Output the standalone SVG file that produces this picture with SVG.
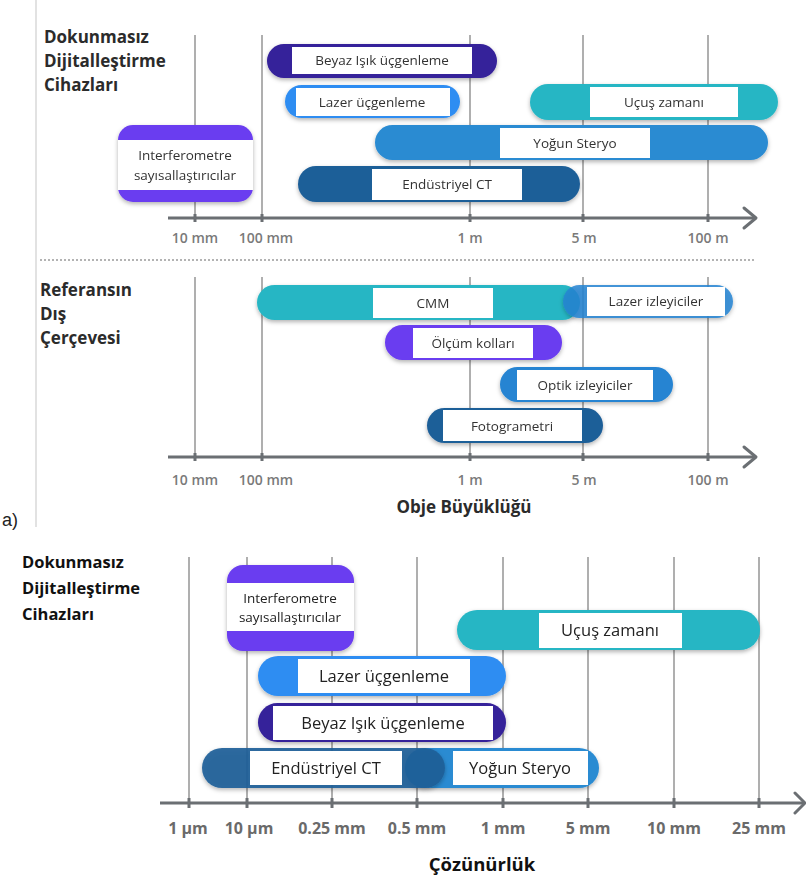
<svg xmlns="http://www.w3.org/2000/svg" width="806" height="881" viewBox="0 0 806 881">
<defs>
<filter id="sh" x="-10%" y="-30%" width="120%" height="170%">
<feDropShadow dx="0" dy="2" stdDeviation="2" flood-color="#000" flood-opacity="0.3"/>
</filter>
<style>
.grid{stroke:#7a7a7a;stroke-width:1.2;fill:none}
.axis{stroke:#6b6f73;stroke-width:3;fill:none}
.arrow{stroke:#6b6f73;stroke-width:3;fill:none;stroke-linecap:round;stroke-linejoin:round}
.tick{stroke:#6b6f73;stroke-width:3}
.box{fill:#fff}
.t1{font-family:"Open Sans","Liberation Sans",sans-serif;font-size:13.5px;fill:#333;text-anchor:middle}
.t2{font-family:"Open Sans","Liberation Sans",sans-serif;font-size:16.5px;fill:#222;text-anchor:middle}
.ax1{font-family:"Open Sans","Liberation Sans",sans-serif;font-size:14px;font-weight:600;fill:#7a7a7a;text-anchor:middle}
.ax2{font-family:"Open Sans","Liberation Sans",sans-serif;font-size:16px;font-weight:700;fill:#6a6a6a;text-anchor:middle}
.ttl1{font-family:"Open Sans","Liberation Sans",sans-serif;font-size:17px;font-weight:700;fill:#2b2b2b}
.ttl2{font-family:"Open Sans","Liberation Sans",sans-serif;font-size:16.5px;font-weight:700;fill:#111}
.indigo{fill:#35209a}
.lblue{fill:#2f8df2}
.mblue{fill:#2a8bd2}
.dblue{fill:#1f5f98}
.teal{fill:#27b6c4}
.purple{fill:#6a3cf0}
.tblue{fill:#2584d2}
</style>
</defs>
<rect width="806" height="881" fill="#fff"/>
<line x1="36" y1="0" x2="36" y2="527" stroke="#e2e2e2" stroke-width="2"/>

<g id="title-top">
<text class="ttl1" x="44" y="43">Dokunmasız</text>
<text class="ttl1" x="44" y="67">Dijitalleştirme</text>
<text class="ttl1" x="44" y="91">Cihazları</text>
</g>
<g id="title-mid">
<text class="ttl1" x="40" y="296">Referansın</text>
<text class="ttl1" x="40" y="320">Dış</text>
<text class="ttl1" x="40" y="344">Çerçevesi</text>
</g>

<g id="connectors">
<line class="grid" x1="195" y1="35" x2="195" y2="218"/>
<line class="grid" x1="262" y1="35" x2="262" y2="218"/>
<line class="grid" x1="470" y1="35" x2="470" y2="218"/>
<line class="grid" x1="583" y1="35" x2="583" y2="218"/>
<line class="grid" x1="708" y1="35" x2="708" y2="218"/>
<line class="axis" x1="168" y1="218" x2="755" y2="218"/>
<polyline class="arrow" points="744,208 756,218 744,228"/>
<g class="tick">
<line x1="195" y1="214" x2="195" y2="222"/><line x1="262" y1="214" x2="262" y2="222"/><line x1="470" y1="214" x2="470" y2="222"/><line x1="583" y1="214" x2="583" y2="222"/><line x1="708" y1="214" x2="708" y2="222"/>
</g>
<line x1="40" y1="260" x2="754" y2="260" stroke="#9a9a9a" stroke-width="1.5" stroke-dasharray="2,2"/>
<line class="grid" x1="195" y1="277" x2="195" y2="457"/>
<line class="grid" x1="262" y1="277" x2="262" y2="457"/>
<line class="grid" x1="470" y1="277" x2="470" y2="457"/>
<line class="grid" x1="583" y1="277" x2="583" y2="457"/>
<line class="grid" x1="708" y1="277" x2="708" y2="457"/>
<line class="axis" x1="168" y1="457" x2="755" y2="457"/>
<polyline class="arrow" points="744,447 756,457 744,467"/>
<g class="tick">
<line x1="195" y1="453" x2="195" y2="461"/><line x1="262" y1="453" x2="262" y2="461"/><line x1="470" y1="453" x2="470" y2="461"/><line x1="583" y1="453" x2="583" y2="461"/><line x1="708" y1="453" x2="708" y2="461"/>
</g>
<line class="grid" x1="189" y1="557" x2="189" y2="803"/>
<line class="grid" x1="247" y1="557" x2="247" y2="803"/>
<line class="grid" x1="332" y1="557" x2="332" y2="803"/>
<line class="grid" x1="417" y1="557" x2="417" y2="803"/>
<line class="grid" x1="503" y1="557" x2="503" y2="803"/>
<line class="grid" x1="588" y1="557" x2="588" y2="803"/>
<line class="grid" x1="674" y1="557" x2="674" y2="803"/>
<line class="grid" x1="759" y1="557" x2="759" y2="803"/>
<line class="axis" x1="160" y1="803" x2="803" y2="803"/>
<polyline class="arrow" points="795,793 805,803 795,813"/>
<g class="tick">
<line x1="189" y1="798" x2="189" y2="808"/><line x1="247" y1="798" x2="247" y2="808"/><line x1="332" y1="798" x2="332" y2="808"/><line x1="417" y1="798" x2="417" y2="808"/><line x1="503" y1="798" x2="503" y2="808"/><line x1="588" y1="798" x2="588" y2="808"/><line x1="674" y1="798" x2="674" y2="808"/><line x1="759" y1="798" x2="759" y2="808"/>
</g>
</g>

<g id="axis-labels-top">
<text class="ax1" x="195" y="243">10 mm</text>
<text class="ax1" x="266" y="243">100 mm</text>
<text class="ax1" x="470" y="243">1 m</text>
<text class="ax1" x="584" y="243">5 m</text>
<text class="ax1" x="708" y="243">100 m</text>
</g>
<g id="axis-labels-mid">
<text class="ax1" x="195" y="485">10 mm</text>
<text class="ax1" x="266" y="485">100 mm</text>
<text class="ax1" x="470" y="485">1 m</text>
<text class="ax1" x="584" y="485">5 m</text>
<text class="ax1" x="708" y="485">100 m</text>
<text class="ttl1" x="464" y="513" text-anchor="middle">Obje Büyüklüğü</text>
</g>
<text x="2" y="526" font-family="Liberation Sans,Arial,sans-serif" font-size="18" fill="#222">a)</text>

<g id="beyaz-top" filter="url(#sh)">
<rect class="indigo" x="267" y="44" width="230" height="34" rx="17"/>
<rect class="box" x="292" y="47" width="180" height="27"/>
<text class="t1" x="382" y="65">Beyaz Işık üçgenleme</text>
</g>
<g id="lazer-top" filter="url(#sh)">
<rect class="lblue" x="285" y="85" width="175" height="33" rx="16.5"/>
<rect class="box" x="296" y="88" width="154" height="28"/>
<text class="t1" x="372" y="107">Lazer üçgenleme</text>
</g>
<g id="ucus-top" filter="url(#sh)">
<rect class="teal" x="530" y="84" width="248" height="36" rx="18"/>
<rect class="box" x="590" y="87" width="148" height="30"/>
<text class="t1" x="664" y="107">Uçuş zamanı</text>
</g>
<g id="yogun-top" filter="url(#sh)">
<rect class="mblue" x="375" y="125" width="393" height="35" rx="17.5"/>
<rect class="box" x="500" y="128" width="150" height="30"/>
<text class="t1" x="575" y="148">Yoğun Steryo</text>
</g>
<g id="ct-top" filter="url(#sh)">
<rect class="dblue" x="298" y="166" width="282" height="36" rx="18"/>
<rect class="box" x="372" y="169" width="150" height="31"/>
<text class="t1" x="447" y="189">Endüstriyel CT</text>
</g>
<g id="interf-top" filter="url(#sh)">
<rect class="purple" x="118" y="125" width="135" height="77" rx="15"/>
<rect class="box" x="118" y="140" width="135" height="50"/>
<text class="t1" x="185" y="160">Interferometre</text>
<text class="t1" x="185" y="180">sayısallaştırıcılar</text>
</g>

<g id="cmm" filter="url(#sh)">
<rect class="teal" x="257" y="285" width="323" height="35" rx="17.5"/>
<rect class="box" x="373" y="288" width="120" height="30"/>
<text class="t1" x="433" y="308">CMM</text>
</g>
<g id="lazer-izleyiciler" filter="url(#sh)">
<rect class="tblue" x="563" y="285" width="170" height="33" rx="16.5" opacity="0.85"/>
<rect class="box" x="587" y="287" width="138" height="29"/>
<text class="t1" x="656" y="306">Lazer izleyiciler</text>
</g>
<g id="olcum" filter="url(#sh)">
<rect class="purple" x="385" y="325" width="177" height="35" rx="17.5"/>
<rect class="box" x="413" y="328" width="120" height="30"/>
<text class="t1" x="473" y="348">Ölçüm kolları</text>
</g>
<g id="optik" filter="url(#sh)">
<rect class="tblue" x="500" y="367" width="173" height="35" rx="17.5"/>
<rect class="box" x="517" y="370" width="136" height="30"/>
<text class="t1" x="585" y="390">Optik izleyiciler</text>
</g>
<g id="foto" filter="url(#sh)">
<rect class="dblue" x="427" y="408" width="176" height="35" rx="17.5"/>
<rect class="box" x="443" y="410" width="139" height="31"/>
<text class="t1" x="512" y="431">Fotogrametri</text>
</g>

<g id="title-bottom">
<text class="ttl2" x="22" y="568">Dokunmasız</text>
<text class="ttl2" x="22" y="594">Dijitalleştirme</text>
<text class="ttl2" x="22" y="620">Cihazları</text>
</g>
<g id="axis-labels-bottom">
<text class="ax2" x="188" y="834">1 µm</text>
<text class="ax2" x="249" y="834">10 µm</text>
<text class="ax2" x="332" y="834">0.25 mm</text>
<text class="ax2" x="417" y="834">0.5 mm</text>
<text class="ax2" x="503" y="834">1 mm</text>
<text class="ax2" x="588" y="834">5 mm</text>
<text class="ax2" x="674" y="834">10 mm</text>
<text class="ax2" x="759" y="834">25 mm</text>
<text class="ttl2" x="482" y="871" text-anchor="middle" style="font-size:18.5px">Çözünürlük</text>
</g>

<g id="interf-bottom" filter="url(#sh)">
<rect class="purple" x="227" y="565" width="127" height="86" rx="16"/>
<rect class="box" x="227" y="583" width="127" height="48"/>
<text class="t2" x="290" y="603" style="font-size:13.5px">Interferometre</text>
<text class="t2" x="290" y="622" style="font-size:13.5px">sayısallaştırıcılar</text>
</g>
<g id="ucus-bottom" filter="url(#sh)">
<rect class="teal" x="457" y="610" width="303" height="40" rx="20"/>
<rect class="box" x="539" y="613" width="143" height="35"/>
<text class="t2" x="610" y="636">Uçuş zamanı</text>
</g>
<g id="lazer-bottom" filter="url(#sh)">
<rect class="lblue" x="258" y="656" width="248" height="40" rx="20"/>
<rect class="box" x="298" y="659" width="172" height="34"/>
<text class="t2" x="384" y="682">Lazer üçgenleme</text>
</g>
<g id="beyaz-bottom" filter="url(#sh)">
<rect class="indigo" x="258" y="703" width="248" height="39" rx="19.5"/>
<rect class="box" x="273" y="706" width="220" height="34"/>
<text class="t2" x="383" y="729">Beyaz Işık üçgenleme</text>
</g>
<g id="yogun-bottom" filter="url(#sh)">
<rect class="mblue" x="405" y="748" width="194" height="40" rx="20"/>
<rect class="box" x="453" y="751" width="135" height="34"/>
<text class="t2" x="520" y="774">Yoğun Steryo</text>
</g>
<g id="ct-bottom" filter="url(#sh)">
<rect class="dblue" x="202" y="748" width="243" height="40" rx="20" opacity="0.92"/>
<rect class="box" x="250" y="751" width="152" height="34"/>
<text class="t2" x="326" y="774">Endüstriyel CT</text>
</g>
</svg>
